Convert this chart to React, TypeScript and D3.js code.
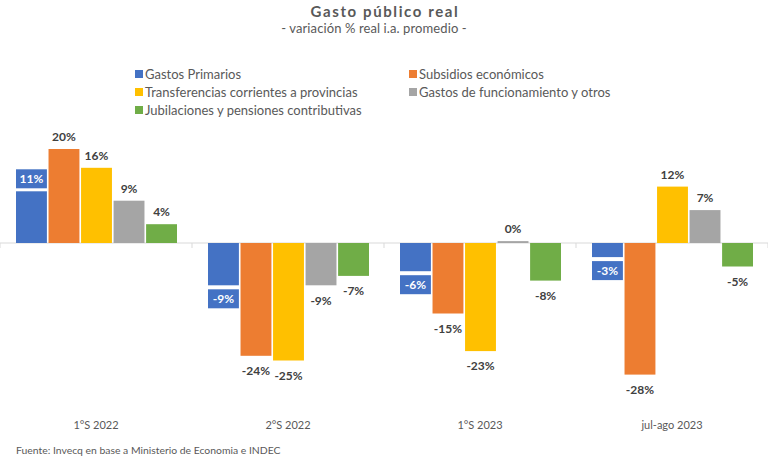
import React from 'react';
import * as d3 from 'd3';

const periods = ['1°S 2022', '2°S 2022', '1°S 2023', 'jul-ago 2023'];
const seriesNames = [
  'Gastos Primarios',
  'Subsidios económicos',
  'Transferencias corrientes a provincias',
  'Gastos de funcionamiento y otros',
  'Jubilaciones y pensiones contributivas',
];
const seriesColors = ['#4472C4', '#ED7D31', '#FFC000', '#A5A5A5', '#70AD47'];

// % real interannual change per period
const gastosPrimarios = [11, -9, -6, -3];
const subsidios = [20, -24, -15, -28];
const transferencias = [16, -25, -23, 12];
const funcionamiento = [9, -9, 0.4, 7];
const jubilaciones = [4, -7, -8, -5];

const seriesValues = [gastosPrimarios, subsidios, transferencias, funcionamiento, jubilaciones];

const WIDTH = 768;
const HEIGHT = 463;
const FONT = 'Lato, "Open Sans", sans-serif';
const TEXT = '#595959';
const LABEL = '#404040';

const App = () => {
  const x0 = d3.scaleBand<string>().domain(periods).range([0, WIDTH]);
  const x1 = d3.scaleBand<number>()
    .domain(d3.range(seriesNames.length))
    .range([16, 177])
    .paddingInner(0.05);
  const y = d3.scaleLinear().domain([-30, 22]).range([384, 139.6]);
  const y0 = y(0);

  const fmt = (v: number) => `${Math.round(v)}%`;

  const legendItems = seriesNames.map((name, i) => ({
    name,
    color: seriesColors[i],
    x: i % 2 === 0 ? 135 : 409,
    y: 74 + Math.floor(i / 2) * 18,
  }));

  return (
    <svg
      width={WIDTH}
      height={HEIGHT}
      style={{ position: 'absolute', left: 0, top: 0, background: '#fff' }}
      fontFamily={FONT}
    >
      <text x={385} y={17} textAnchor="middle" fontSize={15} fontWeight={700} letterSpacing={1.6} fill={TEXT}>
        Gasto público real
      </text>
      <text x={374} y={33} textAnchor="middle" fontSize={13} letterSpacing={0.1} fill={TEXT}>
        - variación % real i.a. promedio -
      </text>

      {legendItems.map((d) => (
        <g key={d.name} transform={`translate(${d.x},${d.y})`}>
          <rect x={0} y={-4} width={8} height={8} fill={d.color} />
          <text x={10} y={0} dy="0.35em" fontSize={13} fill={TEXT}>{d.name}</text>
        </g>
      ))}

      <line x1={0} x2={WIDTH} y1={y0} y2={y0} stroke="#d9d9d9" />
      {d3.range(periods.length + 1).map((i) => (
        <line key={i} x1={i * x0.bandwidth()} x2={i * x0.bandwidth()} y1={y0} y2={y0 + 5} stroke="#d9d9d9" />
      ))}

      {periods.map((p, pi) => (
        <g key={p} transform={`translate(${x0(p)},0)`}>
          {seriesValues.map((vals, si) => {
            const v = vals[pi];
            const bx = x1(si) as number;
            const bw = x1.bandwidth();
            const top = Math.min(y(v), y0);
            const h = Math.abs(y(v) - y0);
            const end = y(v);
            const cx = bx + bw / 2;
            const isBlue = si === 0;
            return (
              <g key={si}>
                <rect x={bx} y={top} width={bw} height={Math.max(h, 1)} fill={seriesColors[si]} />
                {isBlue ? (
                  <g>
                    <rect
                      x={bx}
                      y={v >= 0 ? end - 22 : end + 4}
                      width={bw}
                      height={19}
                      fill={seriesColors[0]}
                    />
                    <text
                      x={cx}
                      y={v >= 0 ? end - 12.5 : end + 13.5}
                      dy="0.35em"
                      textAnchor="middle"
                      fontSize={12}
                      fontWeight={700}
                      fill="#fff"
                    >
                      {fmt(v)}
                    </text>
                  </g>
                ) : (
                  <text
                    x={cx}
                    y={v >= 0 ? end - 12 : end + 15}
                    dy="0.35em"
                    textAnchor="middle"
                    fontSize={12}
                    fontWeight={700}
                    fill={LABEL}
                  >
                    {fmt(v)}
                  </text>
                )}
              </g>
            );
          })}
          <text
            x={x0.bandwidth() / 2}
            y={425}
            dy="0.35em"
            textAnchor="middle"
            fontSize={11}
            fill={TEXT}
          >
            {p}
          </text>
        </g>
      ))}

      <text x={16} y={450} dy="0.35em" fontSize={10.4} fill={TEXT}>
        Fuente: Invecq en base a Ministerio de Economia e INDEC
      </text>
    </svg>
  );
};

export default App;
